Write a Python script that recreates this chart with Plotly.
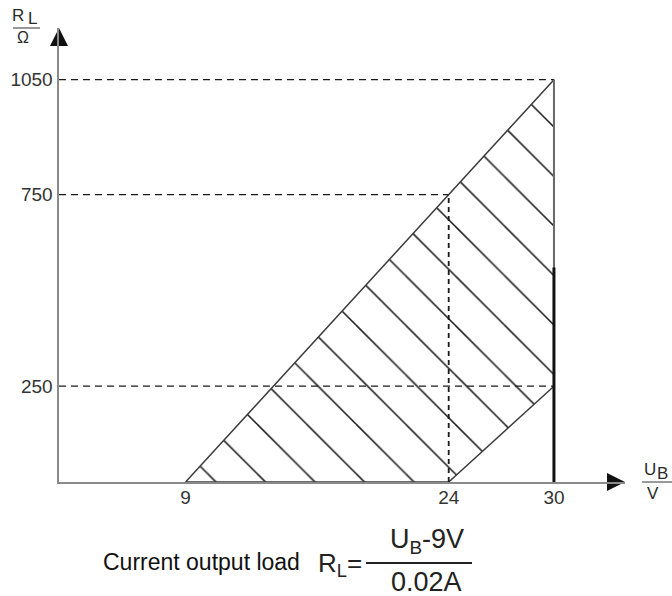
import plotly.graph_objects as go

# ---------------- data ----------------
ub_ticks = [9, 24, 30]            # U_B tick values (V)
rl_ticks = [250, 750, 1050]       # R_L tick values (Ohm)

# permitted working region (hatched)
region_ub = [9, 24, 30, 30, 9]
region_rl = [0, 0, 250, 1050, 0]

# dashed guide lines: horizontal level -> where it ends on U_B
guide_rl = [1050, 750, 250]
guide_ub_end = [30, 24, 30]
# vertical dashed guide
vguide_ub = 24
vguide_rl_top = 750

# right-hand boundary at U_B = 30 V (upper thin part, lower heavy part)
bound_ub = 30
bound_thin_rl = [560, 1050]
bound_heavy_rl = [0, 560]

# ---------------- layout geometry ----------------
W, H = 672, 596
L, R, T, B = 59, 625, 28, 482
X_RANGE = [1.785, 34.05]
Y_RANGE = [0, 1185]

FONT = "Liberation Sans, Arial, sans-serif"
TXT = "#2a2a2a"


def pxp(xp):
    """picture x pixel -> paper coordinate"""
    return (xp - L) / (R - L)


def pyp(yp):
    """picture y pixel -> paper coordinate"""
    return (B - yp) / (B - T)


fig = go.Figure()

# hatched region
fig.add_trace(go.Scatter(
    x=region_ub, y=region_rl, mode="lines", fill="toself",
    fillcolor="rgba(0,0,0,0)",
    fillpattern=dict(shape="\\", size=35, solidity=0.045,
                     fgcolor="#202020", bgcolor="rgba(0,0,0,0)",
                     fillmode="replace"),
    line=dict(color="#3c3c3c", width=1.5),
    hoverinfo="skip", showlegend=False))

# dashed guides
for rl, ub_end in zip(guide_rl, guide_ub_end):
    fig.add_trace(go.Scatter(
        x=[X_RANGE[0], ub_end], y=[rl, rl], mode="lines",
        line=dict(color="#1a1a1a", width=1.3, dash="7px,5px"),
        hoverinfo="skip", showlegend=False))
fig.add_trace(go.Scatter(
    x=[vguide_ub, vguide_ub], y=[0, vguide_rl_top], mode="lines",
    line=dict(color="#1a1a1a", width=1.8, dash="5px,4px"),
    hoverinfo="skip", showlegend=False))

# right boundary
fig.add_trace(go.Scatter(
    x=[bound_ub, bound_ub], y=bound_thin_rl, mode="lines",
    line=dict(color="#6a6a6a", width=2),
    hoverinfo="skip", showlegend=False))
fig.add_trace(go.Scatter(
    x=[bound_ub, bound_ub], y=bound_heavy_rl, mode="lines",
    line=dict(color="#111111", width=3),
    hoverinfo="skip", showlegend=False))

# axis arrow heads at the ends of the axis ranges
fig.add_trace(go.Scatter(
    x=[X_RANGE[0]], y=[Y_RANGE[1]], mode="markers",
    marker=dict(symbol="arrow-up", size=18, color="#111111",
                line=dict(width=0)),
    cliponaxis=False, hoverinfo="skip", showlegend=False))
fig.add_trace(go.Scatter(
    x=[X_RANGE[1]], y=[Y_RANGE[0]], mode="markers",
    marker=dict(symbol="arrow-right", size=18, color="#111111",
                line=dict(width=0)),
    cliponaxis=False, hoverinfo="skip", showlegend=False))

axis_common = dict(showgrid=False, zeroline=False, showline=True,
                   linecolor="#8a8a8a", ticks="", automargin=False,
                   tickfont=dict(family=FONT, size=19, color="#333333"))

fig.update_xaxes(range=X_RANGE, tickvals=ub_ticks,
                 ticktext=[str(v) for v in ub_ticks], linewidth=2,
                 ticklabelstandoff=-3, **axis_common)
fig.update_yaxes(range=Y_RANGE, tickvals=rl_ticks,
                 ticktext=[str(v) for v in rl_ticks], linewidth=2.5,
                 **axis_common)


def txt(xp, yp, text, size, color=TXT, xanchor="center"):
    return dict(xref="paper", yref="paper", x=pxp(xp), y=pyp(yp),
                text=text, showarrow=False, xanchor=xanchor,
                yanchor="middle",
                font=dict(family=FONT, size=size, color=color))


annotations = [
    # y-axis unit label R_L / Ohm
    txt(18, 15, "R", 17),
    txt(32, 19, "L", 17),
    txt(23, 38, "Ω", 16),
    # x-axis unit label U_B / V
    txt(650, 469, "U", 17),
    txt(662, 473, "B", 17),
    txt(653, 493, "V", 17),
    # formula
    txt(101, 562, "Current output load", 23, "#111111", xanchor="left"),
    txt(316, 564, "R<sub>L</sub>=", 26, "#222222", xanchor="left"),
    txt(427, 541, "U<sub>B</sub>-9V", 27, "#222222"),
    txt(426, 582, "0.02A", 27, "#222222"),
]

shapes = [
    dict(type="line", xref="paper", yref="paper",
         x0=pxp(13), x1=pxp(40), y0=pyp(28), y1=pyp(28),
         line=dict(color="#555555", width=1.2)),
    dict(type="line", xref="paper", yref="paper",
         x0=pxp(642), x1=pxp(672), y0=pyp(482), y1=pyp(482),
         line=dict(color="#555555", width=1.2)),
    dict(type="line", xref="paper", yref="paper",
         x0=pxp(366), x1=pxp(472), y0=pyp(563), y1=pyp(563),
         line=dict(color="#222222", width=2)),
]

fig.update_layout(
    width=W, height=H,
    margin=dict(l=L, r=W - R, t=T, b=H - B, pad=0),
    paper_bgcolor="white", plot_bgcolor="white",
    showlegend=False,
    annotations=annotations, shapes=shapes,
)

fig.write_html(
    "out.html",
    config={"displayModeBar": False, "staticPlot": True},
    post_script="document.body.style.margin='0px';"
                "document.body.style.overflow='hidden';",
)
